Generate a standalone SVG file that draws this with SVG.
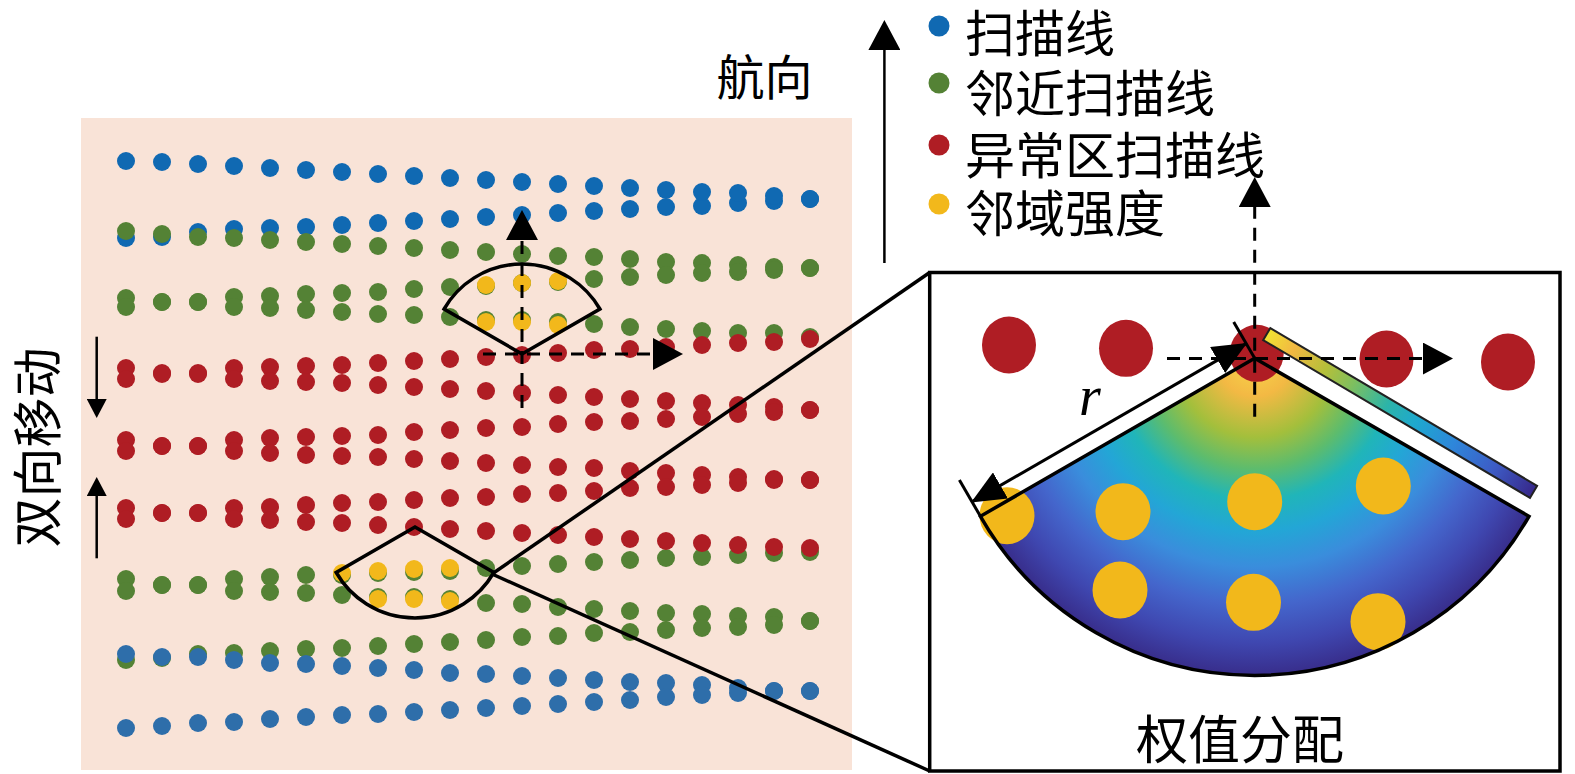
<svg xmlns="http://www.w3.org/2000/svg" width="1575" height="774" viewBox="0 0 1575 774">
<style>
.b circle{fill:#1069b2}
.b2 circle{fill:#2e6eaa}
.g circle{fill:#548235}
.r circle{fill:#af1d24}
.y circle{fill:#f2b81b}
.dot circle{r:9}
.txt{font-family:"Noto Sans CJK SC","Noto Sans",sans-serif;fill:#000}
.ln{stroke:#000;stroke-width:3.5;fill:none}
.dash{stroke:#000;stroke-width:3;fill:none;stroke-dasharray:13 9}
</style>
<defs>
<marker id="ah" markerUnits="userSpaceOnUse" viewBox="0 0 30 32" markerWidth="30" markerHeight="32" refX="2" refY="16" orient="auto"><path d="M0,0 L30,16 L0,32 Z" fill="#000"/></marker>
<marker id="ahs" markerUnits="userSpaceOnUse" viewBox="0 0 19 20" markerWidth="19" markerHeight="20" refX="1" refY="10" orient="auto"><path d="M0,0 L19,10 L0,20 Z" fill="#000"/></marker>
<marker id="ahd" markerUnits="userSpaceOnUse" viewBox="0 0 34 30" markerWidth="34" markerHeight="30" refX="33" refY="15" orient="auto-start-reverse"><path d="M0,0 L34,15 L0,30 Z" fill="#000"/></marker>
<radialGradient id="rg" gradientUnits="userSpaceOnUse" cx="1254.7" cy="358.3" r="316">
<stop offset="0" stop-color="#f8d84a"/>
<stop offset="0.12" stop-color="#f3b944"/>
<stop offset="0.25" stop-color="#a3bf3c"/>
<stop offset="0.35" stop-color="#5dbc6d"/>
<stop offset="0.45" stop-color="#20b5b9"/>
<stop offset="0.55" stop-color="#23a6d6"/>
<stop offset="0.66" stop-color="#3a8ddc"/>
<stop offset="0.78" stop-color="#4466cc"/>
<stop offset="0.9" stop-color="#3f47b0"/>
<stop offset="1" stop-color="#382e8c"/>
</radialGradient>
<linearGradient id="cb" x1="0" y1="0" x2="1" y2="0">
<stop offset="0" stop-color="#efe332"/>
<stop offset="0.1" stop-color="#f2b842"/>
<stop offset="0.22" stop-color="#b5bf3a"/>
<stop offset="0.32" stop-color="#7fbf5e"/>
<stop offset="0.45" stop-color="#2cb4a8"/>
<stop offset="0.56" stop-color="#1ea8cf"/>
<stop offset="0.7" stop-color="#2e86da"/>
<stop offset="0.85" stop-color="#3d5cc5"/>
<stop offset="1" stop-color="#37288a"/>
</linearGradient>
</defs>
<rect width="1575" height="774" fill="#fff"/>

<g id="scan-area">
<rect x="81" y="118" width="771" height="652" fill="#f9e3d7"/>
<g class="dot b">
<circle cx="126" cy="238"/><circle cx="162" cy="237"/><circle cx="198" cy="232"/><circle cx="234" cy="229"/><circle cx="270" cy="228"/><circle cx="306" cy="227"/><circle cx="342" cy="225"/><circle cx="378" cy="223"/><circle cx="414" cy="221"/><circle cx="450" cy="219"/><circle cx="486" cy="217"/><circle cx="522" cy="215"/><circle cx="558" cy="213"/><circle cx="594" cy="211"/><circle cx="630" cy="209"/><circle cx="666" cy="207"/><circle cx="702" cy="206"/><circle cx="738" cy="203"/><circle cx="774" cy="201"/><circle cx="810" cy="199"/>
<circle cx="126" cy="161"/><circle cx="162" cy="162"/><circle cx="198" cy="164"/><circle cx="234" cy="166"/><circle cx="270" cy="168"/><circle cx="306" cy="170"/><circle cx="342" cy="172"/><circle cx="378" cy="174"/><circle cx="414" cy="176"/><circle cx="450" cy="178"/><circle cx="486" cy="180"/><circle cx="522" cy="182"/><circle cx="558" cy="184"/><circle cx="594" cy="186"/><circle cx="630" cy="188"/><circle cx="666" cy="190"/><circle cx="702" cy="192"/><circle cx="738" cy="193"/><circle cx="774" cy="196"/><circle cx="810" cy="199"/>
</g>
<g class="dot g">
<circle cx="126" cy="231"/><circle cx="162" cy="234"/><circle cx="198" cy="237"/><circle cx="234" cy="238"/><circle cx="270" cy="240"/><circle cx="306" cy="242"/><circle cx="342" cy="244"/><circle cx="378" cy="246"/><circle cx="414" cy="248"/><circle cx="450" cy="250"/><circle cx="486" cy="252"/><circle cx="522" cy="254"/><circle cx="558" cy="256"/><circle cx="594" cy="257"/><circle cx="630" cy="259"/><circle cx="666" cy="262"/><circle cx="702" cy="263"/><circle cx="738" cy="265"/><circle cx="774" cy="267"/><circle cx="810" cy="268"/>
<circle cx="126" cy="298"/><circle cx="162" cy="302"/><circle cx="198" cy="302"/><circle cx="234" cy="297"/><circle cx="270" cy="296"/><circle cx="306" cy="294"/><circle cx="342" cy="293"/><circle cx="378" cy="292"/><circle cx="414" cy="289"/><circle cx="450" cy="287"/><circle cx="486" cy="286"/><circle cx="522" cy="283"/><circle cx="558" cy="282"/><circle cx="594" cy="279"/><circle cx="630" cy="277"/><circle cx="666" cy="275"/><circle cx="702" cy="273"/><circle cx="738" cy="272"/><circle cx="774" cy="270"/><circle cx="810" cy="268"/>
<circle cx="126" cy="307"/><circle cx="162" cy="302"/><circle cx="198" cy="302"/><circle cx="234" cy="307"/><circle cx="270" cy="308"/><circle cx="306" cy="310"/><circle cx="342" cy="312"/><circle cx="378" cy="314"/><circle cx="414" cy="315"/><circle cx="450" cy="317"/><circle cx="486" cy="320"/><circle cx="522" cy="320"/><circle cx="558" cy="322"/><circle cx="594" cy="324"/><circle cx="630" cy="327"/><circle cx="666" cy="329"/><circle cx="702" cy="331"/><circle cx="738" cy="333"/><circle cx="774" cy="333"/><circle cx="810" cy="337"/>
<circle cx="126" cy="579"/><circle cx="162" cy="585"/><circle cx="198" cy="585"/><circle cx="234" cy="579"/><circle cx="270" cy="577"/><circle cx="306" cy="575"/><circle cx="342" cy="575"/><circle cx="378" cy="573"/><circle cx="414" cy="572"/><circle cx="450" cy="571"/><circle cx="486" cy="568"/><circle cx="522" cy="566"/><circle cx="558" cy="564"/><circle cx="594" cy="562"/><circle cx="630" cy="560"/><circle cx="666" cy="558"/><circle cx="702" cy="557"/><circle cx="738" cy="555"/><circle cx="774" cy="553"/><circle cx="810" cy="552"/>
<circle cx="126" cy="591"/><circle cx="162" cy="585"/><circle cx="198" cy="585"/><circle cx="234" cy="591"/><circle cx="270" cy="592"/><circle cx="306" cy="593"/><circle cx="342" cy="595"/><circle cx="378" cy="597"/><circle cx="414" cy="597"/><circle cx="450" cy="599"/><circle cx="486" cy="603"/><circle cx="522" cy="604"/><circle cx="558" cy="607"/><circle cx="594" cy="609"/><circle cx="630" cy="611"/><circle cx="666" cy="613"/><circle cx="702" cy="614"/><circle cx="738" cy="616"/><circle cx="774" cy="617"/><circle cx="810" cy="621"/>
<circle cx="126" cy="660"/><circle cx="162" cy="658"/><circle cx="198" cy="654"/><circle cx="234" cy="653"/><circle cx="270" cy="651"/><circle cx="306" cy="649"/><circle cx="342" cy="648"/><circle cx="378" cy="646"/><circle cx="414" cy="644"/><circle cx="450" cy="642"/><circle cx="486" cy="640"/><circle cx="522" cy="637"/><circle cx="558" cy="636"/><circle cx="594" cy="633"/><circle cx="630" cy="632"/><circle cx="666" cy="630"/><circle cx="702" cy="628"/><circle cx="738" cy="627"/><circle cx="774" cy="625"/><circle cx="810" cy="621"/>
</g>
<g class="dot r">
<circle cx="126" cy="368"/><circle cx="162" cy="373"/><circle cx="198" cy="373"/><circle cx="234" cy="368"/><circle cx="270" cy="367"/><circle cx="306" cy="366"/><circle cx="342" cy="365"/><circle cx="378" cy="363"/><circle cx="414" cy="361"/><circle cx="450" cy="359"/><circle cx="486" cy="357"/><circle cx="522" cy="355"/><circle cx="558" cy="353"/><circle cx="594" cy="350"/><circle cx="630" cy="349"/><circle cx="666" cy="347"/><circle cx="702" cy="345"/><circle cx="738" cy="343"/><circle cx="774" cy="342"/><circle cx="810" cy="339"/>
<circle cx="126" cy="379"/><circle cx="162" cy="374"/><circle cx="198" cy="374"/><circle cx="234" cy="379"/><circle cx="270" cy="381"/><circle cx="306" cy="382"/><circle cx="342" cy="383"/><circle cx="378" cy="385"/><circle cx="414" cy="387"/><circle cx="450" cy="389"/><circle cx="486" cy="391"/><circle cx="522" cy="393"/><circle cx="558" cy="395"/><circle cx="594" cy="397"/><circle cx="630" cy="399"/><circle cx="666" cy="401"/><circle cx="702" cy="403"/><circle cx="738" cy="405"/><circle cx="774" cy="407"/><circle cx="810" cy="410"/>
<circle cx="126" cy="440"/><circle cx="162" cy="446"/><circle cx="198" cy="446"/><circle cx="234" cy="440"/><circle cx="270" cy="438"/><circle cx="306" cy="437"/><circle cx="342" cy="436"/><circle cx="378" cy="435"/><circle cx="414" cy="432"/><circle cx="450" cy="430"/><circle cx="486" cy="428"/><circle cx="522" cy="427"/><circle cx="558" cy="424"/><circle cx="594" cy="422"/><circle cx="630" cy="421"/><circle cx="666" cy="419"/><circle cx="702" cy="417"/><circle cx="738" cy="414"/><circle cx="774" cy="412"/><circle cx="810" cy="410"/>
<circle cx="126" cy="451"/><circle cx="162" cy="446"/><circle cx="198" cy="446"/><circle cx="234" cy="451"/><circle cx="270" cy="453"/><circle cx="306" cy="455"/><circle cx="342" cy="456"/><circle cx="378" cy="457"/><circle cx="414" cy="459"/><circle cx="450" cy="461"/><circle cx="486" cy="463"/><circle cx="522" cy="465"/><circle cx="558" cy="467"/><circle cx="594" cy="468"/><circle cx="630" cy="471"/><circle cx="666" cy="473"/><circle cx="702" cy="475"/><circle cx="738" cy="477"/><circle cx="774" cy="479"/><circle cx="810" cy="480"/>
<circle cx="126" cy="508"/><circle cx="162" cy="513"/><circle cx="198" cy="513"/><circle cx="234" cy="508"/><circle cx="270" cy="507"/><circle cx="306" cy="505"/><circle cx="342" cy="503"/><circle cx="378" cy="502"/><circle cx="414" cy="500"/><circle cx="450" cy="498"/><circle cx="486" cy="497"/><circle cx="522" cy="494"/><circle cx="558" cy="493"/><circle cx="594" cy="491"/><circle cx="630" cy="488"/><circle cx="666" cy="487"/><circle cx="702" cy="485"/><circle cx="738" cy="483"/><circle cx="774" cy="480"/><circle cx="810" cy="480"/>
<circle cx="126" cy="519"/><circle cx="162" cy="513"/><circle cx="198" cy="513"/><circle cx="234" cy="519"/><circle cx="270" cy="520"/><circle cx="306" cy="522"/><circle cx="342" cy="523"/><circle cx="378" cy="525"/><circle cx="414" cy="527"/><circle cx="450" cy="529"/><circle cx="486" cy="531"/><circle cx="522" cy="533"/><circle cx="558" cy="535"/><circle cx="594" cy="537"/><circle cx="630" cy="539"/><circle cx="666" cy="541"/><circle cx="702" cy="543"/><circle cx="738" cy="545"/><circle cx="774" cy="547"/><circle cx="810" cy="548"/>
</g>
<g class="dot b2">
<circle cx="126" cy="654"/><circle cx="162" cy="657"/><circle cx="198" cy="657"/><circle cx="234" cy="660"/><circle cx="270" cy="663"/><circle cx="306" cy="664"/><circle cx="342" cy="666"/><circle cx="378" cy="668"/><circle cx="414" cy="670"/><circle cx="450" cy="673"/><circle cx="486" cy="674"/><circle cx="522" cy="676"/><circle cx="558" cy="678"/><circle cx="594" cy="680"/><circle cx="630" cy="682"/><circle cx="666" cy="683"/><circle cx="702" cy="685"/><circle cx="738" cy="688"/><circle cx="774" cy="691"/><circle cx="810" cy="691"/>
<circle cx="126" cy="728"/><circle cx="162" cy="726"/><circle cx="198" cy="723"/><circle cx="234" cy="722"/><circle cx="270" cy="719"/><circle cx="306" cy="717"/><circle cx="342" cy="715"/><circle cx="378" cy="714"/><circle cx="414" cy="712"/><circle cx="450" cy="710"/><circle cx="486" cy="708"/><circle cx="522" cy="706"/><circle cx="558" cy="704"/><circle cx="594" cy="702"/><circle cx="630" cy="700"/><circle cx="666" cy="697"/><circle cx="702" cy="695"/><circle cx="738" cy="693"/><circle cx="774" cy="691"/><circle cx="810" cy="691"/>
</g>
<g class="dot y">
<circle cx="486" cy="285"/><circle cx="522" cy="283"/><circle cx="558" cy="281"/>
<circle cx="486" cy="322"/><circle cx="522" cy="322"/><circle cx="558" cy="325"/>
<circle cx="342" cy="573"/><circle cx="378" cy="571"/><circle cx="414" cy="569"/><circle cx="450" cy="568"/>
<circle cx="378" cy="599"/><circle cx="414" cy="599"/><circle cx="450" cy="601"/>
</g>
</g>

<g id="upper-sector">
<path class="ln" d="M522,354 L444.1,309 A90,90 0 0 1 599.9,309 Z"/>
<line class="dash" x1="522" y1="408" x2="522" y2="238" marker-end="url(#ah)"/>
<line class="dash" x1="483" y1="354" x2="655" y2="354" marker-end="url(#ah)"/>
</g>

<g id="lower-sector">
<path class="ln" d="M415,527 L336.2,572.5 A91,91 0 0 0 493.8,572.5 Z"/>
</g>

<g id="connectors">
<line class="ln" x1="492" y1="574" x2="929.7" y2="272.5"/>
<line class="ln" x1="492" y1="574" x2="929.7" y2="771"/>
<line stroke="#000" stroke-width="2.5" x1="884.4" y1="263" x2="884.4" y2="48" marker-end="url(#ah)"/>
<line stroke="#000" stroke-width="2.5" x1="96.7" y1="336.7" x2="96.7" y2="400" marker-end="url(#ahs)"/>
<line stroke="#000" stroke-width="2.5" x1="96.7" y1="558.3" x2="96.7" y2="495" marker-end="url(#ahs)"/>
</g>

<g id="heading-label">
<text class="txt" x="764.6" y="74" font-size="48" text-anchor="middle" dominant-baseline="central">航向</text>
</g>
<g id="bidirectional-label">
<text class="txt" transform="translate(34,447.5) rotate(-90)" font-size="50" text-anchor="middle" dominant-baseline="central">双向移动</text>
</g>

<g id="legend">
<circle cx="939" cy="26" r="10.5" fill="#1069b2"/>
<circle cx="939" cy="83" r="10.5" fill="#548235"/>
<circle cx="939" cy="145" r="10.5" fill="#af1d24"/>
<circle cx="939" cy="204" r="10.5" fill="#f2b81b"/>
<text class="txt" x="965" y="30" font-size="50" dominant-baseline="central">扫描线</text>
<text class="txt" x="965" y="90" font-size="50" dominant-baseline="central">邻近扫描线</text>
<text class="txt" x="965" y="152" font-size="50" dominant-baseline="central">异常区扫描线</text>
<text class="txt" x="965" y="210" font-size="50" dominant-baseline="central">邻域强度</text>
</g>

<g id="weight-panel">
<rect x="929.7" y="272.5" width="630.3" height="498.5" fill="#fff" stroke="#000" stroke-width="3.5"/>
<path d="M1254.7,358.3 L980.4,516.3 A316,316 0 0 0 1529,516.3 Z" fill="url(#rg)"/>
<g fill="#f2b81b">
<ellipse cx="1007" cy="515.7" rx="27.5" ry="28.5"/>
<ellipse cx="1123" cy="511.7" rx="27.5" ry="28.5"/>
<ellipse cx="1254.7" cy="501.7" rx="27.5" ry="28.5"/>
<ellipse cx="1383.3" cy="486" rx="27.5" ry="28.5"/>
<ellipse cx="1120" cy="590" rx="27.5" ry="28.5"/>
<ellipse cx="1253.5" cy="602.3" rx="27.5" ry="28.5"/>
<ellipse cx="1378" cy="621.7" rx="27.5" ry="28.5"/>
</g>
<g fill="#af1d24">
<ellipse cx="1009" cy="345" rx="27" ry="28.5"/>
<ellipse cx="1126" cy="348.3" rx="27" ry="28.5"/>
<ellipse cx="1256.7" cy="353.3" rx="27" ry="28.5"/>
<ellipse cx="1386.5" cy="359" rx="27" ry="28.5"/>
<ellipse cx="1508" cy="362" rx="27" ry="28.5"/>
</g>
<path class="ln" d="M1254.7,358.3 L980.4,516.3 A316,316 0 0 0 1529,516.3 Z"/>
<g transform="translate(1254.7,358.3) rotate(30.6)">
<rect x="-2" y="-34" width="310" height="14" fill="url(#cb)" stroke="#222" stroke-width="2"/>
</g>
<line class="dash" x1="1254.7" y1="416.7" x2="1254.7" y2="205" marker-end="url(#ah)"/>
<line class="dash" x1="1167" y1="358.6" x2="1425" y2="358.6" marker-end="url(#ah)"/>
<line stroke="#000" stroke-width="3" x1="1254.7" y1="358.3" x2="1233.7" y2="321.9"/>
<line stroke="#000" stroke-width="3" x1="980.4" y1="516.3" x2="959.4" y2="479.9"/>
<line stroke="#000" stroke-width="3" x1="1246.2" y1="343.6" x2="971.9" y2="501.9" marker-start="url(#ahd)" marker-end="url(#ahd)"/>
<text x="1079" y="415" font-family="Liberation Serif, serif" font-style="italic" font-size="56">r</text>
<text class="txt" x="1240" y="736" font-size="52" text-anchor="middle" dominant-baseline="central">权值分配</text>
</g>
</svg>
